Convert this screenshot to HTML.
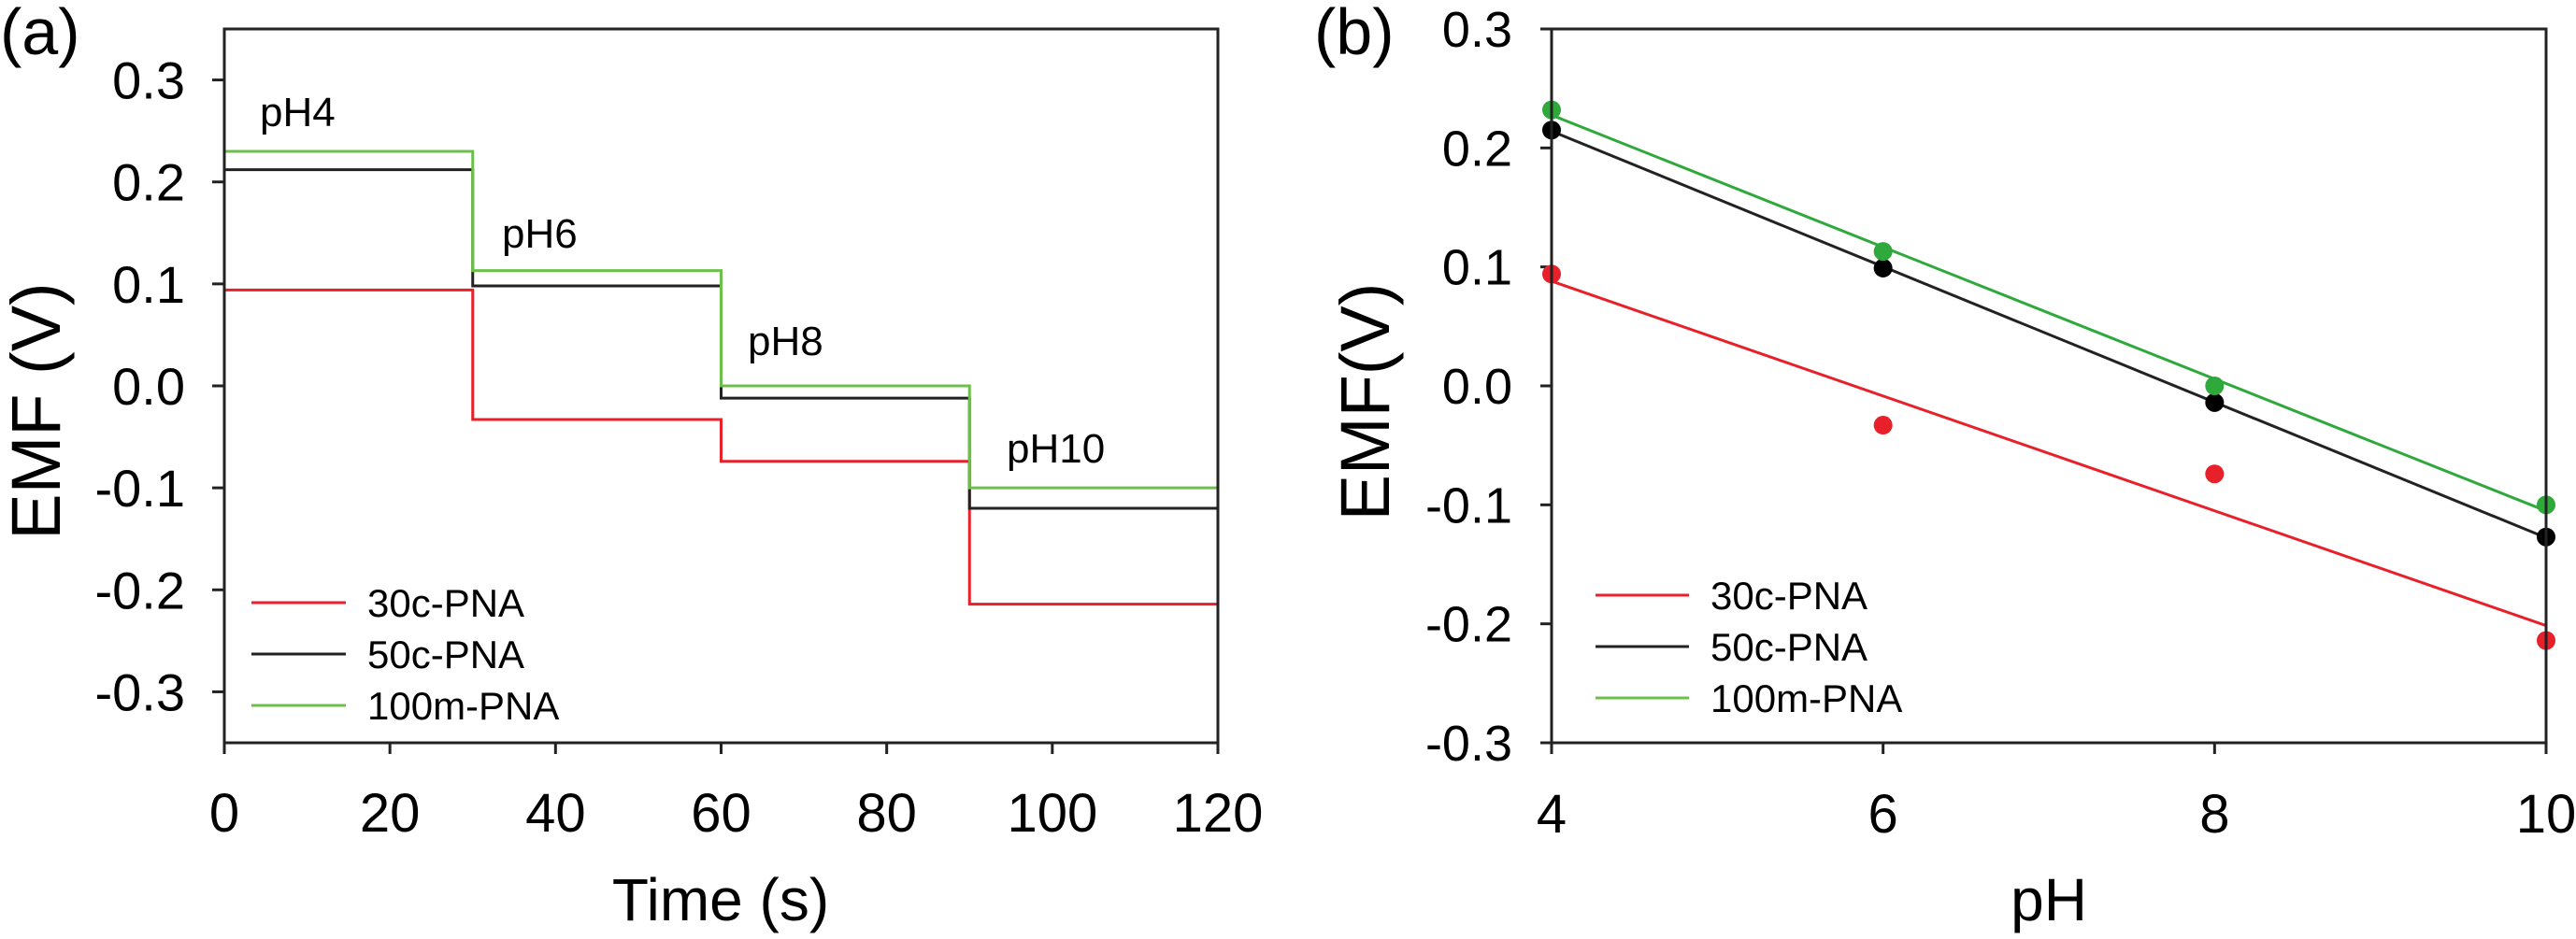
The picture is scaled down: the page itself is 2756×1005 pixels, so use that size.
<!DOCTYPE html>
<html><head><meta charset="utf-8"><style>
html,body{margin:0;padding:0;background:#fff}
svg{display:block;font-family:"Liberation Sans",Arial,sans-serif}
</style></head><body>
<svg id="chart" width="2756" height="1005" viewBox="0 0 2756 1005">
<g id="pa"></g>
<g id="pb"></g>
</svg>
<script>
// Panel (a) data
const stepTimes = [0, 30, 60, 90, 120];
const stepLabels = ["pH4", "pH6", "pH8", "pH10"];
const a30c = [0.094, -0.033, -0.074, -0.214];
const a50c = [0.212, 0.098, -0.012, -0.120];
const a100m = [0.230, 0.113, 0.000, -0.100];
const aXTicks = [0, 20, 40, 60, 80, 100, 120];
const aYTicks = [0.3, 0.2, 0.1, 0.0, -0.1, -0.2, -0.3];
// Panel (b) data
const phValues = [4, 6, 8, 10];
const b30c = [0.094, -0.033, -0.074, -0.214];
const b50c = [0.215, 0.099, -0.014, -0.127];
const b100m = [0.232, 0.113, 0.000, -0.100];
const bXTicks = [4, 6, 8, 10];
const bYTicks = [0.3, 0.2, 0.1, 0.0, -0.1, -0.2, -0.3];
const seriesNames = ["30c-PNA", "50c-PNA", "100m-PNA"];

const NS = "http://www.w3.org/2000/svg";
const RED = "#e8202a", BLACK = "#222", GREEN = "#6cc04a", GREENDOT = "#2fa83c";
function mk(parent, tag, attrs, text) {
  const e = document.createElementNS(NS, tag);
  for (const k in attrs) e.setAttribute(k, attrs[k]);
  if (text !== undefined) e.textContent = text;
  parent.appendChild(e);
  return e;
}
function fmt(v){ return v.toFixed(1).replace("-0.0","0.0"); }

// ---------- Panel A ----------
const pa = document.getElementById("pa");
const AX = {l:240, r:1303, t:31, b:795, xmin:0, xmax:120, ymin:-0.35, ymax:0.35};
const ax = v => AX.l + (v - AX.xmin) / (AX.xmax - AX.xmin) * (AX.r - AX.l);
const ay = v => AX.b - (v - AX.ymin) / (AX.ymax - AX.ymin) * (AX.b - AX.t);

let t = mk(pa, "text", {x:0, y:58, "font-size":70}, "(a)");



aYTicks.forEach(v => {
  const y = ay(v);
  const l = mk(pa, "line", {x1:AX.l-13, x2:AX.l, y1:y, y2:y, stroke:"#222", "stroke-width":3});
  
  
  const tx = mk(pa, "text", {x:198, y:y+20, "font-size":56, "text-anchor":"end"}, fmt(v));
  
  
});
aXTicks.forEach(v => {
  const x = ax(v);
  const l = mk(pa, "line", {x1:x, x2:x, y1:AX.b, y2:AX.b+12, stroke:"#222", "stroke-width":3});
  
  
  const tx = mk(pa, "text", {x:x, y:890, "font-size":58, "text-anchor":"middle"}, String(v));
  
  
});

function stepPath(vals){
  let d = "";
  vals.forEach((v,i) => {
    const x0 = ax(stepTimes[i]), x1 = ax(stepTimes[i+1]), y = ay(v);
    d += (i===0 ? "M" : "L") + x0 + "," + y + " L" + x1 + "," + y + " ";
  });
  return d;
}
[[a30c, RED, "a-series-30c-pna"], [a50c, BLACK, "a-series-50c-pna"], [a100m, GREEN, "a-series-100m-pna"]].forEach(s => {
  const p = mk(pa, "path", {d: stepPath(s[0]), fill:"none", stroke:s[1], "stroke-width":3});
  
  
});
const phLabelPos = [[278,135],[537,265],[800,380],[1077,495]];
stepLabels.forEach((s,i) => {
  const tx = mk(pa, "text", {x:phLabelPos[i][0], y:phLabelPos[i][1], "font-size":44}, s);
  
  
});
const fa = mk(pa, "rect", {x:AX.l, y:AX.t, width:AX.r-AX.l, height:AX.b-AX.t, fill:"none", stroke:"#222", "stroke-width":3});



const aYT = mk(pa, "text", {x:0, y:0, "font-size":74, "text-anchor":"middle", transform:"translate(64,440) rotate(-90)"}, "EMF (V)");


const aXT = mk(pa, "text", {x:771, y:985, "font-size":64, "text-anchor":"middle"}, "Time (s)");



const legColors = [RED, BLACK, GREEN];
[645,700,755].forEach((y,i) => {
  const g = mk(pa, "g", {});
  
  
  mk(g, "line", {x1:269, x2:370, y1:y, y2:y, stroke:legColors[i], "stroke-width":3});
  mk(g, "text", {x:393, y:y+15, "font-size":42}, seriesNames[i]);
});

// ---------- Panel B ----------
const pb = document.getElementById("pb");
const BX = {l:1660, r:2724, t:31, b:795, xmin:4, xmax:10, ymin:-0.3, ymax:0.3};
const bx = v => BX.l + (v - BX.xmin) / (BX.xmax - BX.xmin) * (BX.r - BX.l);
const by = v => BX.b - (v - BX.ymin) / (BX.ymax - BX.ymin) * (BX.b - BX.t);

t = mk(pb, "text", {x:1406, y:58, "font-size":70}, "(b)");



bYTicks.forEach(v => {
  const y = by(v);
  const l = mk(pb, "line", {x1:BX.l-12, x2:BX.l, y1:y, y2:y, stroke:"#222", "stroke-width":3});
  
  
  const tx = mk(pb, "text", {x:1618, y:y+19, "font-size":54, "text-anchor":"end"}, fmt(v));
  
  
});
bXTicks.forEach(v => {
  const x = bx(v);
  const l = mk(pb, "line", {x1:x, x2:x, y1:BX.b, y2:BX.b+12, stroke:"#222", "stroke-width":3});
  
  
  const tx = mk(pb, "text", {x:x, y:891, "font-size":58, "text-anchor":"middle"}, String(v));
  
  
});

function fit(xs, ys){
  const n = xs.length;
  const mx = xs.reduce((a,b)=>a+b,0)/n, my = ys.reduce((a,b)=>a+b,0)/n;
  let sxy=0, sxx=0;
  xs.forEach((x,i)=>{ sxy += (x-mx)*(ys[i]-my); sxx += (x-mx)*(x-mx); });
  const m = sxy/sxx; return [m, my - m*mx];
}
[[b30c, RED, RED, "b-series-30c-pna"], [b50c, BLACK, "#000", "b-series-50c-pna"], [b100m, GREENDOT, GREENDOT, "b-series-100m-pna"]].forEach(s => {
  const g = mk(pb, "g", {});
  
  
  const [m, c] = fit(phValues, s[0]);
  const x0 = phValues[0], x1 = phValues[phValues.length-1];
  const fl = mk(g, "line", {x1:bx(x0), y1:by(m*x0+c), x2:bx(x1), y2:by(m*x1+c), stroke:s[1], "stroke-width":3});
  
  
  s[0].forEach((v,i) => {
    const p = mk(g, "circle", {cx:bx(phValues[i]), cy:by(v), r:10, fill:s[2]});
    
    
  });
});
const fb = mk(pb, "rect", {x:BX.l, y:BX.t, width:BX.r-BX.l, height:BX.b-BX.t, fill:"none", stroke:"#222", "stroke-width":3});



const bYT = mk(pb, "text", {x:0, y:0, "font-size":74, "text-anchor":"middle", transform:"translate(1486,430) rotate(-90)"}, "EMF(V)");


const bXT = mk(pb, "text", {x:2192, y:985, "font-size":64, "text-anchor":"middle"}, "pH");



[637,692,747].forEach((y,i) => {
  const g = mk(pb, "g", {});
  
  
  mk(g, "line", {x1:1707, x2:1807, y1:y, y2:y, stroke:legColors[i], "stroke-width":3});
  mk(g, "text", {x:1830, y:y+15, "font-size":42}, seriesNames[i]);
});
</script>
</body></html>
